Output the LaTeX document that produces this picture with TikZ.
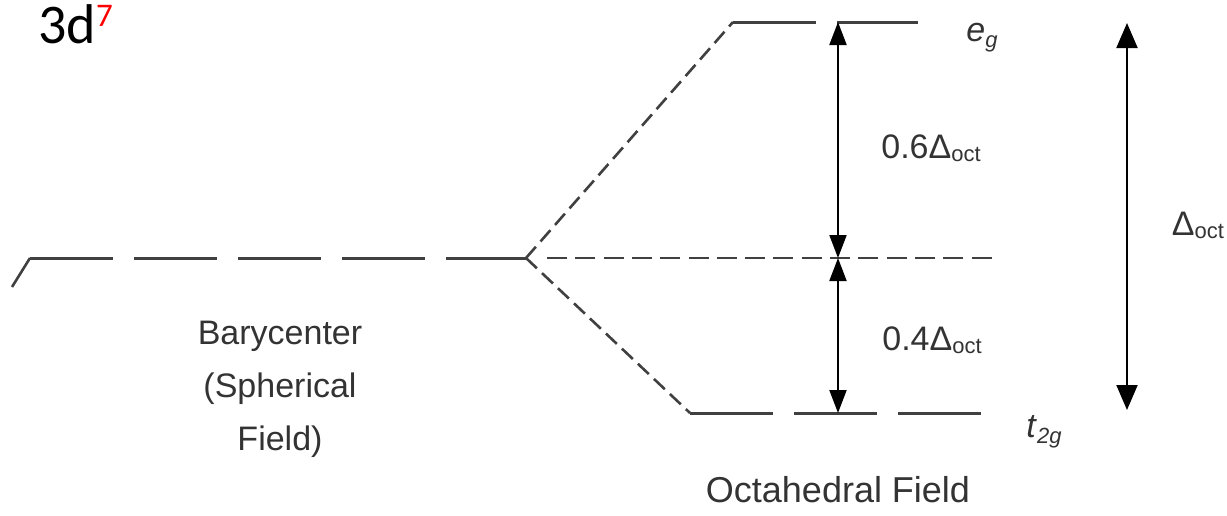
\documentclass[tikz,border=0pt]{standalone}
\usepackage{fontspec}
\setmainfont{Liberation Sans}
\newfontfamily\calibrifont{Carlito}
\usepackage{xcolor}
\usetikzlibrary{arrows.meta}
\definecolor{levelgray}{HTML}{404040}
\definecolor{textgray}{HTML}{333333}

\begin{document}
\begin{tikzpicture}[x=1pt,y=-1pt,font=\fontsize{34}{53}\selectfont,text=textgray]
\useasboundingbox (0,0) rectangle (1227,515);
% Line styles: long dashed levels, short dashed splitting, arrows for the gaps
\tikzstyle{orbital line}=[draw=levelgray,line width=3pt,dash pattern=on 83pt off 21pt];
\tikzstyle{split line}=[draw=levelgray,line width=2.6pt,dash pattern=on 15pt off 7pt];
\tikzstyle{center line}=[draw=levelgray,line width=2.8pt,dash pattern=on 20pt off 8.3pt];
\tikzstyle{gap arrow}=[draw=black,line width=2pt,>={Triangle[length=23pt,width=17pt]},<->];
\tikzstyle{total arrow}=[draw=black,line width=2pt,>={Triangle[length=25pt,width=21pt]},<->];
% Level end points
\coordinate (stub) at (12,287);
\coordinate (bary left) at (30,258);
\coordinate (J) at (526,258);
\coordinate (mid left) at (547,258);
\coordinate (mid right) at (995,258);
\coordinate (eg left) at (733,22);
\coordinate (eg right) at (918,22);
\coordinate (t2g left) at (690,413);
\coordinate (t2g right) at (982,413);
\coordinate (eg arrow) at (838,22);
\coordinate (mid arrow) at (838,258);
\coordinate (t2g arrow) at (838,413);
\coordinate (top total) at (1127,23);
\coordinate (bottom total) at (1127,410);
% The levels
\draw[levelgray,line width=2.6pt](stub)--(bary left);
\draw[orbital line](bary left)--(J);
\draw[split line](J)--(eg left);
\draw[split line](J)--(t2g left);
\draw[orbital line](eg left)--(eg right);
\draw[orbital line](t2g left)--(t2g right);
\draw[center line](mid left)--(mid right);
% The gaps
\draw[gap arrow](eg arrow)--(mid arrow);
\draw[gap arrow](mid arrow)--(t2g arrow);
\draw[total arrow](top total)--(bottom total);
% Labels
\node(term)[anchor=base west,inner sep=0,text=black] at (38,43){\calibrifont\fontsize{56}{56}\selectfont 3d\raisebox{17pt}{\fontsize{33}{33}\selectfont\color{red}7}};
\node(bary)[align=center] at (280,389){Barycenter\\(Spherical\\Field)};
\node(octa)[font=\fontsize{36}{40}\selectfont] at (838,490){Octahedral Field};
\node(upper gap) at (931,148){0.6Δ\raisebox{-3pt}{\fontsize{22}{22}\selectfont oct}};
\node(lower gap) at (932,340){0.4Δ\raisebox{-3pt}{\fontsize{22}{22}\selectfont oct}};
\node(total gap) at (1198,225){Δ\raisebox{-3pt}{\fontsize{22}{22}\selectfont oct}};
\node(eg) at (982,38){\textit{e}\raisebox{-6pt}{\fontsize{22}{22}\selectfont\textit{g}}};
\node(t2g) at (1044,432){\textit{t}\raisebox{-6pt}{\fontsize{22}{22}\selectfont\textit{2g}}};
\end{tikzpicture}
\end{document}
